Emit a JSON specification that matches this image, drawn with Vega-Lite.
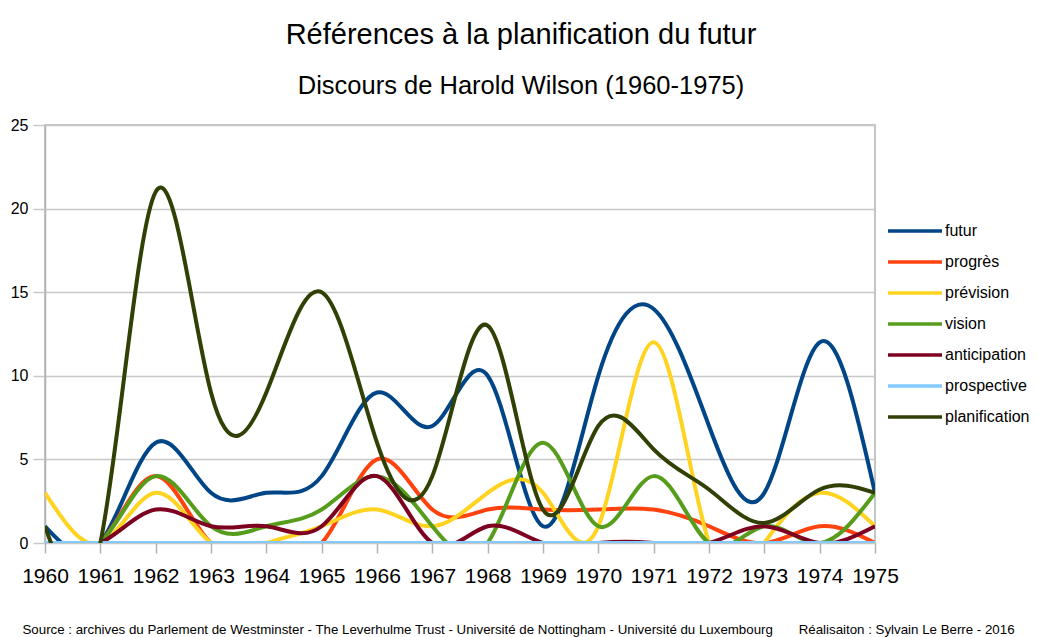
{
  "$schema": "https://vega.github.io/schema/vega-lite/v6.json",
  "width": 830,
  "height": 418,
  "autosize": {"type": "none"},
  "padding": {"left": 45, "top": 125, "right": 163, "bottom": 94},
  "background": "white",
  "title": {
    "text": "Références à la planification du futur",
    "subtitle": "Discours de Harold Wilson (1960-1975)",
    "font": "Liberation Sans",
    "fontSize": 29,
    "fontWeight": "normal",
    "color": "#000000",
    "subtitleFont": "Liberation Sans",
    "subtitleFontSize": 25.5,
    "subtitleColor": "#000000",
    "subtitlePadding": 24,
    "anchor": "middle",
    "dx": 61,
    "offset": 18
  },
  "data": {
    "values": [
      {"annee": 1960, "terme": "futur", "n": 1},
      {"annee": 1961, "terme": "futur", "n": 0},
      {"annee": 1962, "terme": "futur", "n": 6},
      {"annee": 1963, "terme": "futur", "n": 3},
      {"annee": 1964, "terme": "futur", "n": 3},
      {"annee": 1965, "terme": "futur", "n": 4},
      {"annee": 1966, "terme": "futur", "n": 9},
      {"annee": 1967, "terme": "futur", "n": 7},
      {"annee": 1968, "terme": "futur", "n": 10},
      {"annee": 1969, "terme": "futur", "n": 1},
      {"annee": 1970, "terme": "futur", "n": 10},
      {"annee": 1971, "terme": "futur", "n": 14},
      {"annee": 1972, "terme": "futur", "n": 7},
      {"annee": 1973, "terme": "futur", "n": 3},
      {"annee": 1974, "terme": "futur", "n": 12},
      {"annee": 1975, "terme": "futur", "n": 3},

      {"annee": 1960, "terme": "progrès", "n": 0},
      {"annee": 1961, "terme": "progrès", "n": 0},
      {"annee": 1962, "terme": "progrès", "n": 4},
      {"annee": 1963, "terme": "progrès", "n": 0},
      {"annee": 1964, "terme": "progrès", "n": 0},
      {"annee": 1965, "terme": "progrès", "n": 0},
      {"annee": 1966, "terme": "progrès", "n": 5},
      {"annee": 1967, "terme": "progrès", "n": 2},
      {"annee": 1968, "terme": "progrès", "n": 2},
      {"annee": 1969, "terme": "progrès", "n": 2},
      {"annee": 1970, "terme": "progrès", "n": 2},
      {"annee": 1971, "terme": "progrès", "n": 2},
      {"annee": 1972, "terme": "progrès", "n": 1},
      {"annee": 1973, "terme": "progrès", "n": 0},
      {"annee": 1974, "terme": "progrès", "n": 1},
      {"annee": 1975, "terme": "progrès", "n": 0},

      {"annee": 1960, "terme": "prévision", "n": 3},
      {"annee": 1961, "terme": "prévision", "n": 0},
      {"annee": 1962, "terme": "prévision", "n": 3},
      {"annee": 1963, "terme": "prévision", "n": 0},
      {"annee": 1964, "terme": "prévision", "n": 0},
      {"annee": 1965, "terme": "prévision", "n": 1},
      {"annee": 1966, "terme": "prévision", "n": 2},
      {"annee": 1967, "terme": "prévision", "n": 1},
      {"annee": 1968, "terme": "prévision", "n": 3},
      {"annee": 1969, "terme": "prévision", "n": 3},
      {"annee": 1970, "terme": "prévision", "n": 1},
      {"annee": 1971, "terme": "prévision", "n": 12},
      {"annee": 1972, "terme": "prévision", "n": 0},
      {"annee": 1973, "terme": "prévision", "n": 0},
      {"annee": 1974, "terme": "prévision", "n": 3},
      {"annee": 1975, "terme": "prévision", "n": 1},

      {"annee": 1960, "terme": "vision", "n": 0},
      {"annee": 1961, "terme": "vision", "n": 0},
      {"annee": 1962, "terme": "vision", "n": 4},
      {"annee": 1963, "terme": "vision", "n": 1},
      {"annee": 1964, "terme": "vision", "n": 1},
      {"annee": 1965, "terme": "vision", "n": 2},
      {"annee": 1966, "terme": "vision", "n": 4},
      {"annee": 1967, "terme": "vision", "n": 1},
      {"annee": 1968, "terme": "vision", "n": 0},
      {"annee": 1969, "terme": "vision", "n": 6},
      {"annee": 1970, "terme": "vision", "n": 1},
      {"annee": 1971, "terme": "vision", "n": 4},
      {"annee": 1972, "terme": "vision", "n": 0},
      {"annee": 1973, "terme": "vision", "n": 1},
      {"annee": 1974, "terme": "vision", "n": 0},
      {"annee": 1975, "terme": "vision", "n": 3},

      {"annee": 1960, "terme": "anticipation", "n": 0},
      {"annee": 1961, "terme": "anticipation", "n": 0},
      {"annee": 1962, "terme": "anticipation", "n": 2},
      {"annee": 1963, "terme": "anticipation", "n": 1},
      {"annee": 1964, "terme": "anticipation", "n": 1},
      {"annee": 1965, "terme": "anticipation", "n": 1},
      {"annee": 1966, "terme": "anticipation", "n": 4},
      {"annee": 1967, "terme": "anticipation", "n": 0},
      {"annee": 1968, "terme": "anticipation", "n": 1},
      {"annee": 1969, "terme": "anticipation", "n": 0},
      {"annee": 1970, "terme": "anticipation", "n": 0},
      {"annee": 1971, "terme": "anticipation", "n": 0},
      {"annee": 1972, "terme": "anticipation", "n": 0},
      {"annee": 1973, "terme": "anticipation", "n": 1},
      {"annee": 1974, "terme": "anticipation", "n": 0},
      {"annee": 1975, "terme": "anticipation", "n": 1},

      {"annee": 1960, "terme": "prospective", "n": 0},
      {"annee": 1961, "terme": "prospective", "n": 0},
      {"annee": 1962, "terme": "prospective", "n": 0},
      {"annee": 1963, "terme": "prospective", "n": 0},
      {"annee": 1964, "terme": "prospective", "n": 0},
      {"annee": 1965, "terme": "prospective", "n": 0},
      {"annee": 1966, "terme": "prospective", "n": 0},
      {"annee": 1967, "terme": "prospective", "n": 0},
      {"annee": 1968, "terme": "prospective", "n": 0},
      {"annee": 1969, "terme": "prospective", "n": 0},
      {"annee": 1970, "terme": "prospective", "n": 0},
      {"annee": 1971, "terme": "prospective", "n": 0},
      {"annee": 1972, "terme": "prospective", "n": 0},
      {"annee": 1973, "terme": "prospective", "n": 0},
      {"annee": 1974, "terme": "prospective", "n": 0},
      {"annee": 1975, "terme": "prospective", "n": 0},

      {"annee": 1960, "terme": "planification", "n": 1},
      {"annee": 1961, "terme": "planification", "n": 0},
      {"annee": 1962, "terme": "planification", "n": 21},
      {"annee": 1963, "terme": "planification", "n": 9},
      {"annee": 1964, "terme": "planification", "n": 9},
      {"annee": 1965, "terme": "planification", "n": 15},
      {"annee": 1966, "terme": "planification", "n": 6},
      {"annee": 1967, "terme": "planification", "n": 4},
      {"annee": 1968, "terme": "planification", "n": 13},
      {"annee": 1969, "terme": "planification", "n": 2},
      {"annee": 1970, "terme": "planification", "n": 7},
      {"annee": 1971, "terme": "planification", "n": 5.6},
      {"annee": 1972, "terme": "planification", "n": 3.2},
      {"annee": 1973, "terme": "planification", "n": 1.2},
      {"annee": 1974, "terme": "planification", "n": 3.2},
      {"annee": 1975, "terme": "planification", "n": 3}
    ]
  },
  "mark": {"type": "line", "interpolate": "natural", "strokeWidth": 4, "clip": true},
  "encoding": {
    "x": {
      "field": "annee",
      "type": "quantitative",
      "scale": {"domain": [1960, 1975], "nice": false, "zero": false},
      "axis": {
        "values": [1960, 1961, 1962, 1963, 1964, 1965, 1966, 1967, 1968, 1969, 1970, 1971, 1972, 1973, 1974, 1975],
        "format": "d",
        "grid": false,
        "domain": false,
        "ticks": true,
        "tickSize": 10,
        "tickColor": "#b3b3b3",
        "tickWidth": 1.5,
        "labelFont": "Liberation Sans",
        "labelFontSize": 21,
        "labelColor": "#000000",
        "labelPadding": 12,
        "labelFlush": false,
        "labelOverlap": false,
        "title": "Source : archives du Parlement de Westminster - The Leverhulme Trust - Université de Nottingham - Université du Luxembourg\u00a0\u00a0\u00a0\u00a0\u00a0\u00a0\u00a0Réalisaiton : Sylvain Le Berre - 2016",
        "titleFont": "Liberation Sans",
        "titleFontSize": 13.3,
        "titleFontWeight": "normal",
        "titleColor": "#000000",
        "titleAnchor": "start",
        "titleAlign": "left",
        "titleBaseline": "alphabetic",
        "titleX": -23,
        "titleY": 90
      }
    },
    "y": {
      "field": "n",
      "type": "quantitative",
      "scale": {"domain": [0, 25], "nice": false},
      "axis": {
        "values": [0, 5, 10, 15, 20, 25],
        "title": null,
        "grid": true,
        "gridColor": "#c8c8c8",
        "gridWidth": 1.5,
        "domain": true,
        "domainColor": "#b3b3b3",
        "domainWidth": 1.5,
        "ticks": true,
        "tickSize": 12,
        "tickColor": "#c8c8c8",
        "tickWidth": 1.5,
        "labelFont": "Liberation Sans",
        "labelFontSize": 16,
        "labelColor": "#000000",
        "labelPadding": 5
      }
    },
    "color": {
      "field": "terme",
      "type": "nominal",
      "sort": ["futur", "progrès", "prévision", "vision", "anticipation", "prospective", "planification"],
      "scale": {
        "domain": ["futur", "progrès", "prévision", "vision", "anticipation", "prospective", "planification"],
        "range": ["#004586", "#ff420e", "#ffd320", "#579d1c", "#7e0021", "#83caff", "#314004"]
      },
      "legend": {
        "title": null,
        "orient": "none",
        "legendX": 841,
        "legendY": 96,
        "symbolType": "stroke",
        "symbolSize": 2916,
        "symbolStrokeWidth": 3.5,
        "clipHeight": 20,
        "labelFont": "Liberation Sans",
        "labelFontSize": 16,
        "labelColor": "#000000",
        "labelOffset": 1,
        "rowPadding": 11
      }
    }
  },
  "config": {
    "view": {"stroke": "#b3b3b3", "strokeWidth": 1.5}
  }
}
